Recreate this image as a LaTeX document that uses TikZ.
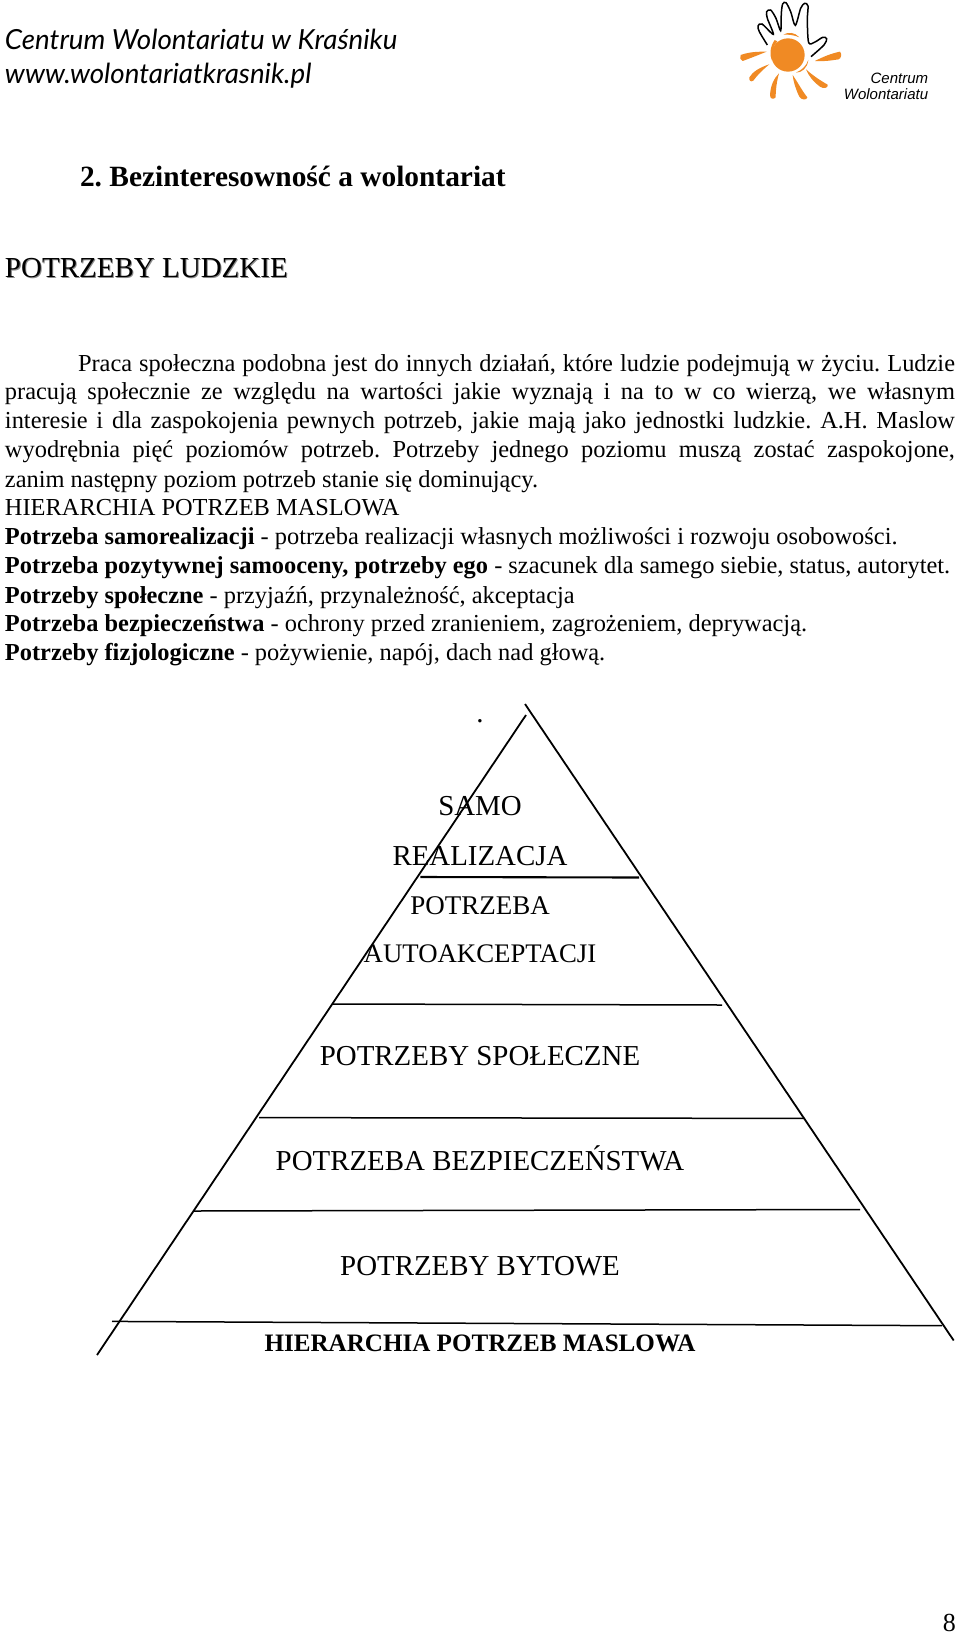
\documentclass[tikz,border=0pt]{standalone}
\usepackage{fontspec}
\setmainfont{Liberation Serif}
\newfontfamily\headfont{Lato}
\newfontfamily\logofont{Liberation Sans}
\definecolor{sun}{HTML}{F08A24}
\frenchspacing
\newcommand{\bodyfs}{\fontsize{24.4}{29}\selectfont}
\newcommand{\pyrfs}{\fontsize{28.9}{30}\selectfont}
\tikzset{
  txt/.style={inner sep=0pt,outer sep=0pt,anchor=base west,font=\bodyfs},
  pyr/.style={inner sep=0pt,outer sep=0pt,anchor=base,font=\pyrfs},
  head/.style={inner sep=0pt,outer sep=0pt,anchor=base west,font=\headfont\itshape\fontsize{27.7}{30}\selectfont},
  edge/.style={line width=1.8pt,black},
  level/.style={line width=1.5pt,black},
  logotxt/.style={inner sep=0pt,anchor=base east,font=\logofont\itshape\fontsize{15}{16}\selectfont}
}
\begin{document}
\begin{tikzpicture}[x=1pt,y=-1pt]
\useasboundingbox (0,0) rectangle (960,1638);
\fill[white] (0,0) rectangle (960,1638);
% header
\node[head] (h1) at (5,49) {Centrum Wolontariatu w Kraśniku};
\node[head] (h2) at (5,83) {www.wolontariatkrasnik.pl};
% logo
\begin{scope}[shift={(730,0)},x=0.3333pt,y=-0.3333pt]
  \fill[sun] (174,165) circle (50);
  % crescents
  \fill[sun] (134,120) .. controls (120,140) and (118,165) .. (126,182) .. controls (124,160) and (128,140) .. (142,124) -- cycle;
  \fill[sun] (160,104) .. controls (175,95) and (195,97) .. (208,112) .. controls (192,105) and (175,103) .. (160,104) -- cycle;
  \fill[sun] (235,180) .. controls (228,200) and (215,210) .. (198,218) .. controls (215,218) and (232,205) .. (235,180) -- cycle;
  % rays
  \fill[sun] (32,165) .. controls (60,155) and (85,155) .. (110,155) .. controls (85,165) and (60,175) .. (38,183) .. controls (30,182) and (29,172) .. (32,165) -- cycle;
  \fill[sun] (58,232) .. controls (68,215) and (90,202) .. (118,193) .. controls (95,212) and (80,228) .. (70,242) .. controls (62,248) and (56,240) .. (58,232) -- cycle;
  \fill[sun] (120,285) .. controls (122,255) and (132,235) .. (147,220) .. controls (140,245) and (137,270) .. (137,292) .. controls (130,300) and (120,297) .. (120,285) -- cycle;
  \fill[sun] (188,225) .. controls (205,250) and (218,275) .. (232,292) .. controls (230,302) and (214,300) .. (208,290) .. controls (198,270) and (190,245) .. (188,225) -- cycle;
  \fill[sun] (228,208) .. controls (250,228) and (272,242) .. (293,254) .. controls (296,264) and (280,268) .. (270,260) .. controls (250,245) and (236,228) .. (228,208) -- cycle;
  \fill[sun] (255,183) .. controls (280,170) and (305,160) .. (330,155) .. controls (336,162) and (334,175) .. (326,178) .. controls (300,182) and (278,185) .. (255,183) -- cycle;
  % hand
  \draw[black,line width=1.5pt,smooth] plot coordinates {(112,135) (88,95) (84,78) (96,72) (130,103) (112,55) (110,35) (122,30) (138,55) (152,92) (154,40) (158,12) (168,8) (182,35) (196,76) (212,25) (224,10) (234,18) (232,60) (236,128) (255,126) (278,112) (290,116) (282,135) (243,170)};
  \node[logotxt] (lg1) at (595,250) {Centrum};
  \node[logotxt] (lg2) at (595,298) {Wolontariatu};
\end{scope}
% title
\node[txt,font=\bfseries\fontsize{29.4}{30}\selectfont] (title) at (80,186) {2. Bezinteresowność a wolontariat};
\node[txt,font=\fontsize{29}{30}\selectfont,text=black!45] (subs) at (6,278) {POTRZEBY LUDZKIE};
\node[txt,font=\fontsize{29}{30}\selectfont] (sub) at (5,277) {POTRZEBY LUDZKIE};
% body
\node[txt] (b1) at (78,371) {\makebox[877pt][s]{Praca społeczna podobna jest do innych działań, które ludzie podejmują w życiu. Ludzie}};
\node[txt] (b2) at (5,399) {\makebox[950pt][s]{pracują społecznie ze względu na wartości jakie wyznają i na to w co wierzą, we własnym}};
\node[txt] (b3) at (5,428) {\makebox[950pt][s]{interesie i dla zaspokojenia pewnych potrzeb, jakie mają jako jednostki ludzkie. A.H. Maslow}};
\node[txt] (b4) at (5,457) {\makebox[950pt][s]{wyodrębnia pięć poziomów potrzeb. Potrzeby jednego poziomu muszą zostać zaspokojone,}};
\node[txt] (b5) at (5,487) {zanim następny poziom potrzeb stanie się dominujący.};
\node[txt] (b6) at (5,515) {HIERARCHIA POTRZEB MASLOWA};
\node[txt] (b7) at (5,544) {\textbf{Potrzeba samorealizacji} - potrzeba realizacji własnych możliwości i rozwoju osobowości.};
\node[txt] (b8) at (5,573) {\textbf{Potrzeba pozytywnej samooceny, potrzeby ego} - szacunek dla samego siebie, status, autorytet.};
\node[txt] (b9) at (5,603) {\textbf{Potrzeby społeczne} - przyjaźń, przynależność, akceptacja};
\node[txt] (b10) at (5,631) {\textbf{Potrzeba bezpieczeństwa} - ochrony przed zranieniem, zagrożeniem, deprywacją.};
\node[txt] (b11) at (5,660) {\textbf{Potrzeby fizjologiczne} - pożywienie, napój, dach nad głową.};
% pyramid
\coordinate (rt) at (525,704);
\coordinate (rb) at (953.7,1340.5);
\coordinate (lt) at (526,715);
\coordinate (lb) at (97,1355);
\draw[edge] (rt) -- (rb);
\draw[edge] (lt) -- (lb);
\coordinate (a1) at (420.3,877); \coordinate (a2) at (639,877.5);
\coordinate (c1) at (332.7,1004); \coordinate (c2) at (722,1005);
\coordinate (d1) at (259.1,1117.6); \coordinate (d2) at (804,1118.4);
\coordinate (e1) at (194,1211); \coordinate (e2) at (860,1209.5);
\coordinate (f1) at (112,1321.4); \coordinate (f2) at (942,1325.7);
\draw[level,line width=2.1pt] (a1) -- (a2);
\draw[level] (c1) -- (c2);
\draw[level] (d1) -- (d2);
\draw[level] (e1) -- (e2);
\draw[level] (f1) -- (f2);
\node[pyr] (dot) at (480,722) {.};
\node[pyr] (p1) at (480,815) {SAMO};
\node[pyr] (p2) at (480,865.6) {REALIZACJA};
\node[pyr,font=\fontsize{27}{30}\selectfont] (p3) at (480,914.6) {POTRZEBA};
\node[pyr,font=\fontsize{26.8}{30}\selectfont] (p4) at (480,962) {AUTOAKCEPTACJI};
\node[pyr] (p5) at (480,1065) {POTRZEBY SPOŁECZNE};
\node[pyr] (p6) at (480,1170) {POTRZEBA BEZPIECZEŃSTWA};
\node[pyr] (p7) at (480,1275) {POTRZEBY BYTOWE};
\node[pyr,font=\bfseries\fontsize{25.1}{28}\selectfont] (cap) at (480,1351) {HIERARCHIA POTRZEB MASLOWA};
\node[inner sep=0pt,anchor=base east,font=\fontsize{26}{28}\selectfont] (pg) at (956,1631) {8};
\end{tikzpicture}
\end{document}
